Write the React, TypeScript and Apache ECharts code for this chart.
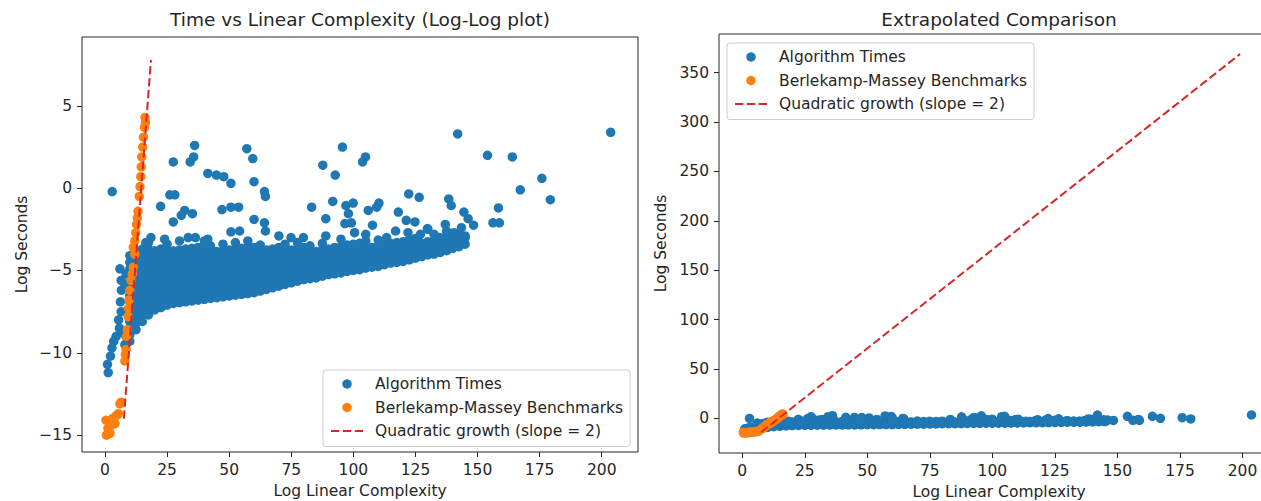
import React, { useEffect, useRef } from "react";
import * as echarts from "echarts";

const xTicks = [0, 25, 50, 75, 100, 125, 150, 175, 200];
const leftYTicks = [-15, -10, -5, 0, 5];
const rightYTicks = [0, 50, 100, 150, 200, 250, 300, 350];

const seriesNames = [
  "Algorithm Times",
  "Berlekamp-Massey Benchmarks",
  "Quadratic growth (slope = 2)",
];

// Dense body of the "Algorithm Times" cloud, read column by column: [x, y values]
const algoColumns: [number, number[]][] = [
  [10, [-9.3, -8.9, -8.5, -8.1, -7.7, -7.3, -6.9, -6.5, -6.1, -5.7, -5.3, -4.9, -4.5, -4.1]],
  [12.5, [-8.6, -8.2, -7.8, -7.4, -7.0, -6.6, -6.2, -5.8, -5.4, -5.0, -4.6, -4.2, -3.8]],
  [15, [-8.1, -7.7, -7.3, -6.9, -6.5, -6.1, -5.7, -5.3, -4.9, -4.5, -4.1, -3.7]],
  [17.5, [-7.7, -7.3, -6.9, -6.5, -6.1, -5.7, -5.3, -4.9, -4.5, -4.1, -3.7, -3.3]],
  [20, [-7.4, -7.0, -6.6, -6.2, -5.8, -5.4, -5.0, -4.6, -4.2, -3.8]],
  [22.5, [-7.25, -6.85, -6.45, -6.05, -5.65, -5.25, -4.85, -4.45, -4.05, -3.7]],
  [25, [-7.1, -6.7, -6.3, -5.9, -5.5, -5.1, -4.7, -4.3, -3.9, -3.4]],
  [27.5, [-7.0, -6.6, -6.2, -5.8, -5.4, -5.0, -4.6, -4.2, -3.8]],
  [30, [-6.95, -6.55, -6.15, -5.75, -5.35, -4.95, -4.55, -4.15, -3.75, -3.2]],
  [32.5, [-6.9, -6.5, -6.1, -5.7, -5.3, -4.9, -4.5, -4.1, -3.7]],
  [35, [-6.85, -6.45, -6.05, -5.65, -5.25, -4.85, -4.45, -4.05, -3.65]],
  [37.5, [-6.8, -6.4, -6.0, -5.6, -5.2, -4.8, -4.4, -4.0, -3.6]],
  [40, [-6.75, -6.35, -5.95, -5.55, -5.15, -4.75, -4.35, -3.95, -3.55, -3.2]],
  [42.5, [-6.7, -6.3, -5.9, -5.5, -5.1, -4.7, -4.3, -3.9, -3.5]],
  [45, [-6.65, -6.25, -5.85, -5.45, -5.05, -4.65, -4.25, -3.85]],
  [47.5, [-6.6, -6.2, -5.8, -5.4, -5.0, -4.6, -4.2, -3.8, -3.4]],
  [50, [-6.55, -6.15, -5.75, -5.35, -4.95, -4.55, -4.15, -3.75]],
  [52.5, [-6.5, -6.1, -5.7, -5.3, -4.9, -4.5, -4.1, -3.7, -3.3]],
  [55, [-6.45, -6.05, -5.65, -5.25, -4.85, -4.45, -4.05, -3.65]],
  [57.5, [-6.4, -6.0, -5.6, -5.2, -4.8, -4.4, -4.0, -3.6, -3.2]],
  [60, [-6.35, -5.95, -5.55, -5.15, -4.75, -4.35, -3.95, -3.6]],
  [62.5, [-6.25, -5.85, -5.45, -5.05, -4.65, -4.25, -3.85, -3.45]],
  [65, [-6.15, -5.75, -5.35, -4.95, -4.55, -4.15, -3.75]],
  [67.5, [-6.05, -5.65, -5.25, -4.85, -4.45, -4.05, -3.7]],
  [70, [-5.95, -5.55, -5.15, -4.75, -4.35, -3.95, -3.6]],
  [72.5, [-5.85, -5.45, -5.05, -4.65, -4.25, -3.85, -3.4]],
  [75, [-5.75, -5.35, -4.95, -4.55, -4.15, -3.75]],
  [77.5, [-5.65, -5.25, -4.85, -4.45, -4.05, -3.7, -3.3]],
  [80, [-5.55, -5.15, -4.75, -4.35, -3.95, -3.6]],
  [82.5, [-5.5, -5.1, -4.7, -4.3, -3.9, -3.5]],
  [85, [-5.45, -5.05, -4.65, -4.25, -3.85]],
  [87.5, [-5.35, -4.95, -4.55, -4.15, -3.75, -3.35]],
  [90, [-5.25, -4.85, -4.45, -4.05, -3.7]],
  [92.5, [-5.2, -4.8, -4.4, -4.0, -3.6]],
  [95, [-5.15, -4.75, -4.35, -3.95, -3.55, -3.1]],
  [97.5, [-5.05, -4.65, -4.25, -3.85, -3.45]],
  [100, [-5.0, -4.6, -4.2, -3.8, -3.4]],
  [102.5, [-4.95, -4.55, -4.15, -3.75, -3.35]],
  [105, [-4.85, -4.45, -4.05, -3.65, -3.2]],
  [107.5, [-4.8, -4.4, -4.0, -3.6]],
  [110, [-4.75, -4.35, -3.95, -3.55, -3.15]],
  [112.5, [-4.65, -4.25, -3.85, -3.45]],
  [115, [-4.55, -4.15, -3.75, -3.35]],
  [117.5, [-4.5, -4.1, -3.7, -3.3]],
  [120, [-4.45, -4.05, -3.65, -3.25]],
  [122.5, [-4.35, -3.95, -3.55, -3.15]],
  [125, [-4.25, -3.85, -3.45, -3.05]],
  [127.5, [-4.15, -3.75, -3.35]],
  [130, [-4.05, -3.65, -3.25]],
  [132.5, [-4.0, -3.6, -3.2, -2.8]],
  [135, [-3.9, -3.5, -3.1]],
  [137.5, [-3.8, -3.4, -3.0, -2.6]],
  [140, [-3.65, -3.25, -2.85]],
  [142.5, [-3.55, -3.15, -2.75]],
  [145, [-3.4, -3.0]],
];

// Small-complexity tail of "Algorithm Times"
const algoLowX: [number, number][] = [
  [6.0, -4.9], [6.5, -5.6], [6.6, -6.2], [6.2, -6.9], [6.5, -7.5], [5.5, -8.0],
  [5.8, -8.5], [4.5, -9.0], [3.5, -9.3], [2.8, -9.7], [2.2, -10.2], [1.0, -10.7],
  [1.3, -11.2], [7.5, -8.8], [8.0, -9.5], [8.5, -9.0], [8.0, -6.0], [8.5, -5.2],
];

// Scattered "Algorithm Times" points above and beside the main band
const algoOutliers: [number, number][] = [
  [2.9, -0.2], [36.1, 2.6], [34.3, 1.6], [35.7, 1.9], [27.5, 1.6], [57.1, 2.4],
  [59.5, 1.8], [95.6, 2.5], [104.9, 1.9], [103.7, 1.6], [87.7, 1.4], [92.7, 0.8],
  [142, 3.3], [154, 2.0], [164, 1.9], [203.6, 3.4], [175.9, 0.6], [167.2, -0.1],
  [179.3, -0.7], [41.4, 0.9], [44.9, 0.8], [47.8, 0.7], [50.7, 0.3], [60, 0.4],
  [64.2, -0.2], [64.6, -0.5], [26.1, -0.4], [28.1, -0.4], [22.4, -1.1], [32.1, -1.35],
  [35.2, -1.55], [30.7, -1.65], [27.5, -2.05], [47.1, -1.3], [50.7, -1.15], [53.8, -1.15],
  [60, -1.9], [64.2, -2.1], [64.6, -2.6], [50.7, -2.65], [54.2, -2.6], [41.4, -3.1],
  [33.5, -3.0], [36.4, -3.0], [83.2, -1.15], [91.7, -0.8], [88.9, -1.85], [97, -1.05],
  [99.9, -0.9], [98, -1.55], [99.2, -2.1], [96.6, -2.15], [106, -1.35], [110.3, -0.9],
  [109.4, -1.15], [107.7, -2.25], [122.3, -0.35], [126.5, -0.55], [118.1, -1.45], [121.3, -1.95],
  [124.8, -2.05], [129.8, -2.45], [138.4, -0.65], [139.4, -1.05], [144.5, -1.45], [146.2, -1.85],
  [148.4, -2.25], [158.4, -1.2], [156.2, -2.1], [158.8, -2.1], [88.9, -2.9], [74.9, -3.0],
  [79.9, -3.0], [105, -2.8], [113.4, -3.0], [122, -2.7], [130, -2.5], [134.8, -3.0],
  [140.5, -2.7], [143.5, -2.4], [145, -2.9], [16.4, -3.3], [18.5, -3.0], [24, -3.1],
  [70, -2.9], [100.5, -2.7], [117, -2.6], [127, -2.8], [137, -2.2],
];

const benchmarkPoints: [number, number][] = [
  [0.4, -14.1], [0.6, -15.0], [1.2, -14.6], [2.0, -14.9], [2.5, -14.4], [3.0, -14.0],
  [4.0, -14.3], [4.6, -13.8], [5.4, -13.7], [6.0, -13.1], [6.5, -13.0],
  [8.0, -10.5], [8.2, -10.1], [8.5, -9.8], [8.7, -9.0], [9.0, -8.6], [9.3, -7.8],
  [9.5, -7.3], [9.7, -6.8], [10.0, -6.2], [10.5, -5.6], [11.0, -5.2], [11.4, -4.8],
  [12.0, -4.0], [11.4, -3.6], [12.0, -3.2], [12.4, -2.7], [12.7, -2.2], [13.0, -1.8],
  [13.3, -1.4], [13.8, -0.5], [14.1, 0.1], [14.4, 0.7], [14.6, 1.3], [14.8, 1.9],
  [15.2, 2.5], [15.5, 3.1], [15.9, 3.7], [16.1, 4.3], [16.3, 4.0],
];

const leftFitLine: [number, number][] = [[7.6, -14], [18.5, 7.8]];
const rightFitLine: [number, number][] = [[7.6, -14], [199, 368.8]];

const FONT = "DejaVu Sans";
const TXT = "#262626";
const BLUE = "#1f77b4";
const ORANGE = "#ff7f0e";
const RED = "#d62728";
const FS = 15.5;

const fmt = (v: number) => String(v).replace("-", "\u2212");

function buildOption() {
  const algoPoints: [number, number][] = [...algoLowX];
  algoColumns.forEach(([x, ys]) => ys.forEach((y) => algoPoints.push([x, y])));
  algoOutliers.forEach((p) => algoPoints.push(p));

  const xAxis = (gridIndex: number, min: number, max: number) => ({
    type: "value",
    gridIndex,
    min,
    max,
    axisLine: { show: false, onZero: false },
    axisTick: { show: true, length: 5, customValues: xTicks, lineStyle: { color: TXT, width: 1 } },
    axisLabel: { customValues: xTicks, margin: 10, color: TXT, fontFamily: FONT, fontSize: FS, formatter: fmt },
    splitLine: { show: false },
    name: "Log Linear Complexity",
    nameLocation: "middle",
    nameGap: 30,
    nameTextStyle: { color: TXT, fontFamily: FONT, fontSize: FS },
  });
  const yAxis = (gridIndex: number, min: number, max: number, ticks: number[], gap: number) => ({
    type: "value",
    gridIndex,
    min,
    max,
    axisLine: { show: false, onZero: false },
    axisTick: { show: true, length: 5, customValues: ticks, lineStyle: { color: TXT, width: 1 } },
    axisLabel: { customValues: ticks, margin: 10, color: TXT, fontFamily: FONT, fontSize: FS, formatter: fmt },
    splitLine: { show: false },
    name: "Log Seconds",
    nameLocation: "middle",
    nameGap: gap,
    nameTextStyle: { color: TXT, fontFamily: FONT, fontSize: FS },
  });
  const legend = (left: number, top: number) => ({
    data: seriesNames,
    left,
    top,
    orient: "vertical",
    itemWidth: 32,
    itemHeight: 9.5,
    itemGap: 7.5,
    padding: [6, 7, 7.5, 7],
    backgroundColor: "rgba(255,255,255,0.8)",
    borderColor: "#cccccc",
    borderWidth: 1,
    borderRadius: 3,
    selectedMode: false,
    textStyle: { color: TXT, fontFamily: FONT, fontSize: FS, padding: [0, 0, 0, 7] },
  });
  const title = (text: string, left: number) => ({
    text,
    left,
    top: 10,
    padding: 0,
    textAlign: "center",
    textStyle: { color: TXT, fontFamily: FONT, fontSize: 18.5, fontWeight: "normal" },
  });
  const scatter = (name: string, idx: number, data: [number, number][], color: string) => ({
    type: "scatter",
    name,
    xAxisIndex: idx,
    yAxisIndex: idx,
    data,
    symbol: "circle",
    symbolSize: 9.5,
    itemStyle: { color, opacity: 1 },
    emphasis: { disabled: true },
    silent: true,
  });
  const fit = (idx: number, data: [number, number][]) => ({
    type: "line",
    name: seriesNames[2],
    xAxisIndex: idx,
    yAxisIndex: idx,
    data,
    symbol: "none",
    showSymbol: false,
    itemStyle: { color: "rgba(0,0,0,0)", borderWidth: 0 },
    lineStyle: { color: RED, width: 2, type: [8.3, 3.6] },
    emphasis: { disabled: true },
    silent: true,
  });

  return {
    animation: false,
    backgroundColor: "#ffffff",
    textStyle: { fontFamily: FONT },
    title: [
      title("Time vs Linear Complexity (Log-Log plot)", 360),
      title("Extrapolated Comparison", 999),
    ],
    grid: [
      { left: 82, top: 37, width: 556, height: 415, show: true, borderColor: TXT, borderWidth: 1, backgroundColor: "transparent", containLabel: false, outerBoundsMode: "none" },
      { left: 719, top: 34, width: 560, height: 419, show: true, borderColor: TXT, borderWidth: 1, backgroundColor: "transparent", containLabel: false, outerBoundsMode: "none" },
    ],
    xAxis: [xAxis(0, -9.26, 214.6), xAxis(1, -9.3, 214.6)],
    yAxis: [
      yAxis(0, -16.03, 9.19, leftYTicks, 52),
      yAxis(1, -35.2, 389.2, rightYTicks, 50),
    ],
    legend: [legend(323, 370), legend(727, 43)],
    series: [
      scatter(seriesNames[0], 0, algoPoints, BLUE),
      scatter(seriesNames[1], 0, benchmarkPoints, ORANGE),
      fit(0, leftFitLine),
      scatter(seriesNames[0], 1, algoPoints, BLUE),
      scatter(seriesNames[1], 1, benchmarkPoints, ORANGE),
      fit(1, rightFitLine),
    ],
  };
}

export default function App() {
  const ref = useRef<HTMLDivElement>(null);
  useEffect(() => {
    document.body.style.margin = "0";
    document.body.style.overflow = "hidden";
    const chart = echarts.init(ref.current!, undefined, { renderer: "svg", width: 1261, height: 501 });
    chart.setOption(buildOption() as any);
    return () => chart.dispose();
  }, []);
  return (
    <div
      ref={ref}
      style={{ position: "absolute", left: 0, top: 0, width: 1261, height: 501, overflow: "hidden" }}
    />
  );
}
